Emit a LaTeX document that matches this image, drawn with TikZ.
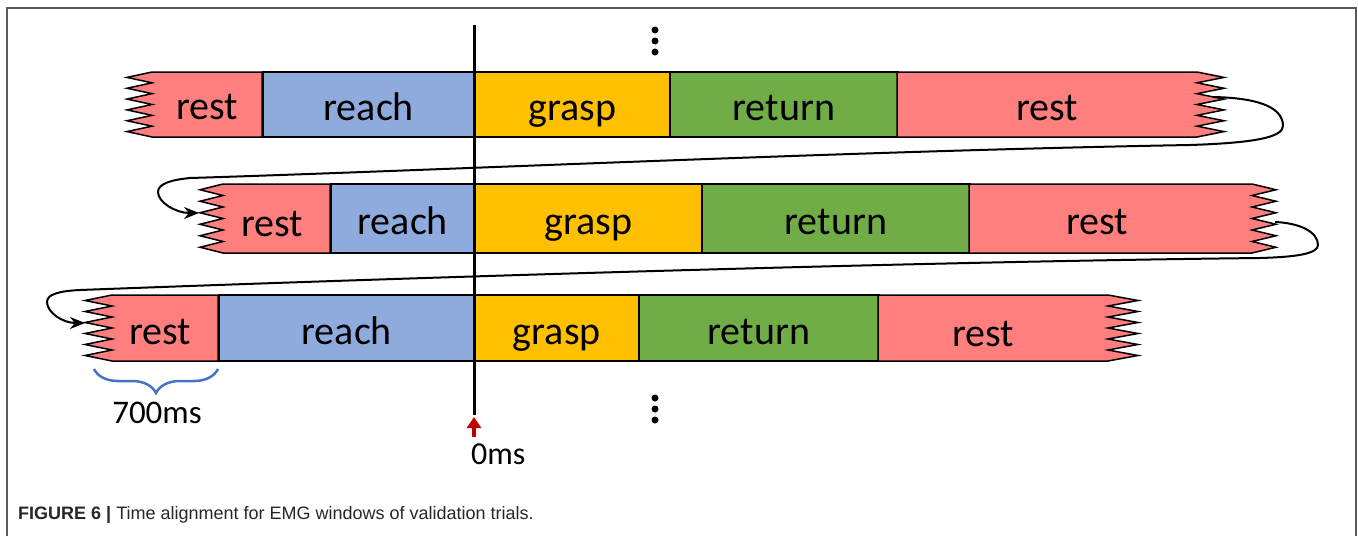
\documentclass[tikz,border=0pt]{standalone}
\usepackage{fontspec}
\setmainfont{Carlito}
\newfontfamily\capfont{Liberation Sans}
\usetikzlibrary{arrows.meta,decorations.pathreplacing}
\definecolor{restc}{RGB}{255,127,127}
\definecolor{reachc}{RGB}{143,170,220}
\definecolor{graspc}{RGB}{255,192,0}
\definecolor{returnc}{RGB}{112,173,71}
\definecolor{bracec}{RGB}{68,114,196}
\definecolor{arrowred}{RGB}{192,0,0}
\definecolor{framec}{RGB}{90,90,90}
% left zigzag end piece: #1 outer x, #2 inner x, #3 top y, #4 bottom y, #5 right x, #6 colour
\newcommand\zigLeft[6]{%
  \filldraw[fill=#6, segline] (#5,#3) -- (#2,#3)
    \foreach \k in {0,...,5}{ -- ({#1},{#3+(\k+0.5)*(#4-#3)/6}) -- ({#2},{#3+(\k+1)*(#4-#3)/6}) }
    -- (#5,#4) -- cycle;}
% right zigzag end piece: #1 outer x, #2 inner x, #3 top y, #4 bottom y, #5 left x, #6 colour
\newcommand\zigRight[6]{%
  \filldraw[fill=#6, segline] (#5,#3) -- (#2,#3)
    \foreach \k in {0,...,5}{ -- ({#1},{#3+(\k+0.5)*(#4-#3)/6}) -- ({#2},{#3+(\k+1)*(#4-#3)/6}) }
    -- (#5,#4) -- cycle;}
\tikzset{
  segline/.style={draw=black, line width=1.5pt, line join=miter},
  seglabel/.style={font=\fontsize{40}{48}\selectfont, inner sep=0pt, text height=32pt, text depth=0pt},
  seg/.style={segline, seglabel, minimum height=#1, anchor=west},
  conn/.style={line width=2pt, black, -{Stealth[length=15pt,width=12pt]}},
  dot/.style={circle, fill=black, inner sep=0pt, minimum size=7pt},
}
\begin{document}
\begin{tikzpicture}[x=1pt,y=-1pt]
\useasboundingbox (0,0) rectangle (1358,536);
% frame
\draw[framec, line width=1.5pt] (7,536) -- (7,8) -- (1356,8) -- (1356,536);

% ---------- row 1 (y 72..137)
\zigLeft{127}{152}{72}{137}{262}{restc}
\node[seglabel] (r1restL) at (207,103) {rest};
\node[seg=65pt, fill=reachc,  minimum width=212pt] (r1reach)  at (262,104.5) {reach};
\node[seg=65pt, fill=graspc,  minimum width=195pt] (r1grasp)  at (474,104.5) {grasp};
\node[seg=65pt, fill=returnc, minimum width=228pt] (r1return) at (669,104.5) {return};
\zigRight{1224}{1197}{72}{137}{897}{restc}
\node[seglabel] (r1restR) at (1047,104.5) {rest};

% ---------- row 2 (y 184..253)
\zigLeft{200}{223}{184}{253}{330}{restc}
\node[seglabel] (r2restL) at (272,220) {rest};
\node[seg=69pt, fill=reachc,  minimum width=144pt] (r2reach)  at (330,218.5) {reach};
\node[seg=69pt, fill=graspc,  minimum width=227pt] (r2grasp)  at (474,218.5) {grasp};
\node[seg=69pt, fill=returnc, minimum width=268pt] (r2return) at (701,218.5) {return};
\zigRight{1276}{1252}{184}{253}{969}{restc}
\node[seglabel] (r2restR) at (1097,218.5) {rest};

% ---------- row 3 (y 295..361)
\zigLeft{85}{112}{295}{361}{218}{restc}
\node[seglabel] (r3restL) at (160,328) {rest};
\node[seg=66pt, fill=reachc,  minimum width=256pt] (r3reach)  at (218,328) {reach};
\node[seg=66pt, fill=graspc,  minimum width=164pt] (r3grasp)  at (474,328) {grasp};
\node[seg=66pt, fill=returnc, minimum width=240pt] (r3return) at (638,328) {return};
\zigRight{1138}{1108}{295}{361}{878}{restc}
\node[seglabel] (r3restR) at (983,330) {rest};

% ---------- wrap-around connectors
\coordinate (c1s) at (1213,97);
\coordinate (c1e) at (199,213);
\draw[conn] (c1s) .. controls (1265,98) and (1283,110) .. (1283,126)
  .. controls (1283,138) and (1250,143) .. (1190,145)
  .. controls (850,151) and (450,170) .. (190,178)
  .. controls (170,180) and (158,184) .. (158,192)
  .. controls (158,202) and (175,213) .. (c1e);
\coordinate (c2s) at (1275,222);
\coordinate (c2e) at (85,323);
\draw[conn] (c2s) .. controls (1300,223) and (1318,232) .. (1318,245)
  .. controls (1318,254) and (1295,257) .. (1260,258)
  .. controls (900,262) and (400,278) .. (80,290)
  .. controls (60,291) and (47,294) .. (47,302)
  .. controls (47,312) and (62,323) .. (c2e);

% ---------- zero line
\coordinate (vt) at (474,25);
\coordinate (vb) at (474,415);
\draw[line width=3pt] (vt) -- (vb);

% ellipsis dots
\node[dot] (dt1) at (655,30) {};
\node[dot] (dt2) at (655,41) {};
\node[dot] (dt3) at (655,52) {};
\node[dot] (db1) at (655,398) {};
\node[dot] (db2) at (655,409) {};
\node[dot] (db3) at (655,420) {};

% 0ms marker
\node[anchor=west, inner sep=0pt, font=\fontsize{32}{38}\selectfont] (zero) at (471,454) {0ms};
\coordinate (za) at (474,437);
\coordinate (zb) at (474,417);
\draw[arrowred, line width=3.5pt, -{Triangle[length=11pt,width=14pt]}] (za) -- (zb);

% 700 ms brace
\coordinate (bl) at (94,369);
\coordinate (br) at (218,369);
\draw[bracec, line width=2.5pt, decorate, decoration={brace, mirror, amplitude=24pt}] (bl) -- (br);
\node[inner sep=0pt, font=\fontsize{33}{40}\selectfont] (ms700) at (157,413) {700ms};

% caption
\node[anchor=base west, inner sep=0pt, text=black!85, font=\capfont\fontsize{18}{22}\selectfont] (cap) at (18,519)
  {\textbf{FIGURE 6 |} Time alignment for EMG windows of validation trials.};
\end{tikzpicture}
\end{document}
